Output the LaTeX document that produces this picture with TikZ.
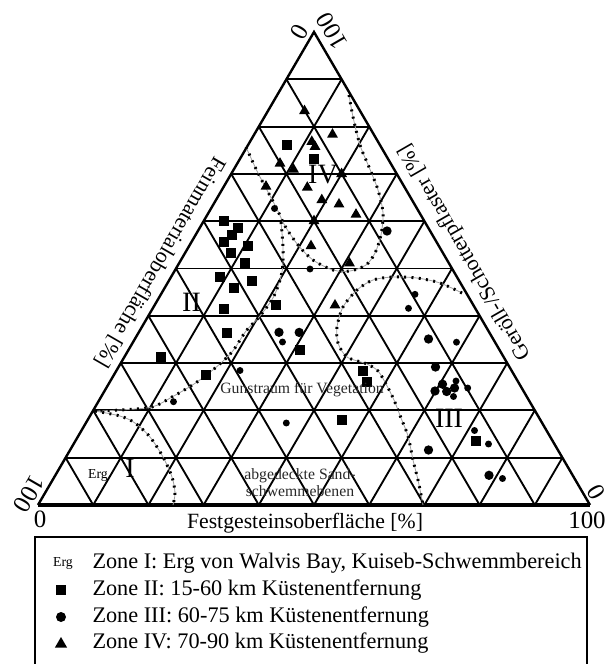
\documentclass[tikz,border=0pt]{standalone}
\usepackage{fontspec}
\setmainfont{Liberation Serif}
\usetikzlibrary{calc,shapes.geometric}

\tikzset{every picture/.style={line width=0.75pt}}
\tikzset{
  gridline/.style={line width=1.4pt},
  sideline/.style={line width=1.8pt},
  baseline/.style={line width=2.6pt},
  zone/.style={color={rgb, 255:red, 160; green, 160; blue, 160 }, line width=0.6pt,
    postaction={draw=black, line width=2.2pt, dash pattern=on 1.5pt off 4pt}},
  sqmark/.style={rectangle, fill=black, minimum size=7.5pt, inner sep=0pt},
  dotmark/.style={circle, fill=black, minimum size=5.2pt, inner sep=0pt},
  bigdot/.style={dotmark, minimum size=7pt},
  trimark/.style={regular polygon, regular polygon sides=3, fill=black, minimum size=9.5pt, inner sep=0pt},
  vnum/.style={inner sep=0.75pt, font=\fontsize{18.7}{20}\selectfont},
  axlab/.style={inner sep=0.75pt, font=\fontsize{16.3}{19}\selectfont},
  zonenum/.style={inner sep=0.75pt, font=\fontsize{21}{24}\selectfont},
  areatext/.style={inner sep=0.75pt, align=center, font=\fontsize{11.8}{12.8}\selectfont, color={rgb, 255:red, 40; green, 40; blue, 40 }},
  legtext/.style={anchor=west, inner sep=0.75pt, font=\fontsize{16.7}{19}\selectfont},
  ergtext/.style={inner sep=0.75pt, font=\fontsize{10.3}{12}\selectfont}
}

\begin{document}
\begin{tikzpicture}[x=0.75pt,y=0.75pt,yscale=-1,xscale=1]
\useasboundingbox (0,0) rectangle (610,664);

% corners of the triangle
\coordinate (A) at (38,505);
\coordinate (B) at (590,505);
\coordinate (C) at (314,32);

%Shape: grid
\foreach \k in {1,...,9}{
  \draw[gridline] ($(A)!\k/10!(C)$) -- ($(B)!\k/10!(C)$);
  \draw[gridline] ($(A)!\k/10!(B)$) -- ($(C)!\k/10!(B)$);
  \draw[gridline] ($(A)!\k/10!(B)$) -- ($(A)!\k/10!(C)$);
}
%Shape: Triangle
\draw[sideline] (A) -- (C) -- (B);
\draw[baseline] (A) -- (B);

%Curves: zone boundaries
\draw[zone] plot[smooth] coordinates {(349,95) (352,112) (356,130) (361,148) (369,167) (378,190) (383,213) (381,235) (375,253) (366,265) (350,271) (333,270) (313,260) (298,245) (285,226) (277,209) (268,192) (257,171) (246,147)};
\draw[zone] plot[smooth] coordinates {(281,222) (283,248) (282,272) (274,296) (260,316) (246,331) (232,352) (214,369) (194,384) (172,397) (152,407) (120,410) (95,411)};
\draw[zone] plot[smooth] coordinates {(95,411) (120,416) (135,423) (150,437) (163,457) (172,477) (175,493) (173,505)};
\draw[zone] plot[smooth] coordinates {(462,293) (440,283) (417,278) (393,277) (373,280) (357,290) (343,307) (337,327) (338,343) (347,357) (367,364) (378,371) (386,384) (394,400) (401,418) (408,436) (413,460) (418,480) (423,505)};

%Marks: Zone II
\foreach \x/\y [count=\i] in {286.7/145, 313.5/159, 223.5/221, 238.3/228.3, 231.5/235, 223.5/241.5, 248.3/246, 230.7/253, 244.7/263.3, 220/277, 252/281, 234/288, 224/309, 276.3/305, 226.5/332.7, 300/350, 161/357.3, 205.5/375, 363.3/371, 367.3/381.8, 342.3/420, 475.5/441}
  \node[sqmark] (sq\i) at (\x,\y) {};
%Marks: Zone III
\foreach \x/\y [count=\i] in {310/269, 415/294.3, 408.5/308.3, 282.5/342, 240/370.5, 173.5/401.7, 286.3/423, 456.5/342.2, 474.5/430.5, 488.5/444, 502.5/478.5, 453.5/396.5, 456/381, 467.7/388, 274.5/208.5}
  \node[dotmark] (dt\i) at (\x,\y) {};
\foreach \x/\y [count=\i] in {387/231, 279/332.3, 299.2/332.4, 428.5/339, 435.5/367, 442.5/384.2, 454.5/388, 446.7/391.5, 435/391, 428.5/450, 489/475.3}
  \node[bigdot] (bd\i) at (\x,\y) {};
%Marks: Zone IV
\foreach \x/\y [count=\i] in {304.5/111, 332.5/134.5, 311.8/141.7, 315/146.7, 280/163.5, 293.5/169.5, 341.6/173.9, 266/186.5, 307.3/187.5, 321.8/200, 339/204.3, 356/214.5, 314/221, 311/246, 349.5/263.3, 335/305.3}
  \node[trimark] (tr\i) at (\x,\y) {};

% Text Node
\node[vnum, rotate=240] (feintop) at (299,32) {0};
\node[vnum, rotate=120] (geroelltop) at (332,31) {100};
\node[vnum, rotate=240] (feinleft) at (29,494) {100};
\node[vnum, rotate=120] (geroellright) at (596,492) {0};
\node[vnum] (festleft) at (40,519) {0};
\node[vnum] (festright) at (587,520) {100};
% Text Node
\node[axlab, rotate=240] (feinlab) at (160,262) {Feinmaterialoberfläche [\%]};
\node[axlab, rotate=120] (geroelllab) at (465,252) {Geröll-/Schotterpflaster [\%]};
\node[axlab] (festlab) at (305,523) {Festgesteinsoberfläche [\%]};
% Text Node
\node[zonenum] (zoneI) at (130,468) {I};
\node[zonenum] (zoneII) at (191.5,302) {II};
\node[zonenum] (zoneIII) at (449,418) {III};
\node[zonenum] (zoneIV) at (323,175) {IV};
\node[ergtext] (erg) at (98,475) {Erg};
\node[areatext] (gunst) at (302,390) {Gunstraum für Vegetation};
\node[areatext] (sand) at (300,483) {abgedeckte Sand-\\schwemmebenen};

%Shape: legend
\draw[line width=1.5pt] (35,670) -- (35,537) -- (587,537) -- (587,670);
\node[ergtext] (legerg) at (63,563) {Erg};
\node[sqmark] (legsq) at (61,590) {};
\node[bigdot, minimum size=7.5pt] (legdot) at (61,617) {};
\node[trimark, minimum size=10.5pt] (legtri) at (61,644) {};
\node[legtext] (leg1) at (91,563) {Zone I: Erg von Walvis Bay, Kuiseb-Schwemmbereich};
\node[legtext] (leg2) at (91,590) {Zone II: 15-60 km Küstenentfernung};
\node[legtext] (leg3) at (91,617) {Zone III: 60-75 km Küstenentfernung};
\node[legtext] (leg4) at (91,643) {Zone IV: 70-90 km Küstenentfernung};

\end{tikzpicture}
\end{document}
